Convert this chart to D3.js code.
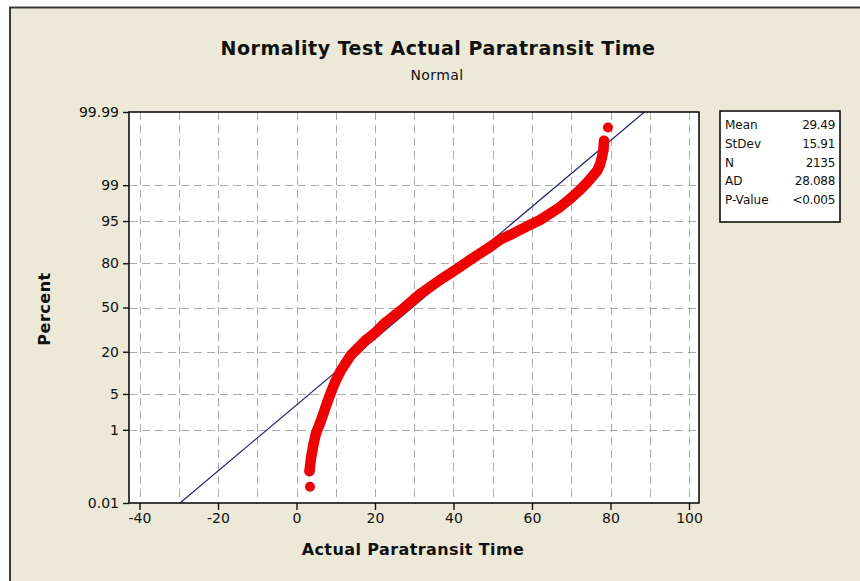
<!DOCTYPE html>
<html><head><meta charset="utf-8">
<script src="https://cdn.jsdelivr.net/npm/d3@7"></script>
<style>body{margin:0;background:#fff;} svg{display:block;}</style>
</head><body><svg id="c" width="860" height="581"></svg>
<script>
// ---- data ----
const xTicks = [-40, -20, 0, 20, 40, 60, 80, 100];
const xTickLabels = ["-40", "-20", "0", "20", "40", "60", "80", "100"];
const xGrid = [-40, -30, -20, -10, 0, 10, 20, 30, 40, 50, 60, 70, 80, 90, 100];
const yTicks = [0.01, 1, 5, 20, 50, 80, 95, 99, 99.99];
const yTickLabels = ["0.01", "1", "5", "20", "50", "80", "95", "99", "99.99"];
const dataValue = [3.44, 3.31, 3.69, 4.28, 4.97, 5.99, 6.88, 7.77, 8.79, 9.94, 11.08, 12.36, 13.89, 15.67, 17.71, 20.0, 22.55, 25.10, 27.64, 31.46, 34.01, 36.56, 39.11, 41.66, 44.20, 46.75, 49.30, 51.85, 54.39, 56.94, 59.49, 62.04, 64.59, 67.13, 69.68, 72.23, 73.76, 75.29, 76.56, 77.32, 77.83, 78.22, 78.34, 79.36];
const dataPercent = [0.0325, 0.092, 0.207, 0.44, 0.84, 1.39, 2.22, 3.45, 5.37, 8.08, 10.96, 14.1, 18.3, 22.0, 26.8, 31.4, 38.4, 44.3, 50.4, 60.1, 65.2, 70.0, 74.1, 78.0, 81.7, 84.8, 87.5, 90.1, 91.6, 93.0, 94.2, 95.2, 96.3, 97.2, 98.06, 98.74, 99.07, 99.35, 99.53, 99.67, 99.79, 99.87, 99.924, 99.969];
const statLabels = ["Mean", "StDev", "N", "AD", "P-Value"];
const statValues = ["29.49", "15.91", "2135", "28.088", "<0.005"];
const fitMean = 29.49, fitSd = 15.91;
const titleText = "Normality Test Actual Paratransit Time";
const subtitleText = "Normal";
const xLabel = "Actual Paratransit Time";
const yLabel = "Percent";

// ---- inverse normal (probability scale) ----
function probit(p) {
  const a = [-3.969683028665376e+01, 2.209460984245205e+02, -2.759285104469687e+02, 1.383577518672690e+02, -3.066479806614716e+01, 2.506628277459239e+00];
  const b = [-5.447609879822406e+01, 1.615858368580409e+02, -1.556989798598866e+02, 6.680131188771972e+01, -1.328068155288572e+01];
  const c = [-7.784894002430293e-03, -3.223964580411365e-01, -2.400758277161838e+00, -2.549732539343734e+00, 4.374664141464968e+00, 2.938163982698783e+00];
  const d = [7.784695709041462e-03, 3.224671290700398e-01, 2.445134137142996e+00, 3.754408661907416e+00];
  const pl = 0.02425, ph = 1 - pl;
  let q, r;
  if (p < pl) { q = Math.sqrt(-2 * Math.log(p)); return (((((c[0]*q+c[1])*q+c[2])*q+c[3])*q+c[4])*q+c[5]) / ((((d[0]*q+d[1])*q+d[2])*q+d[3])*q+1); }
  if (p <= ph) { q = p - 0.5; r = q*q; return (((((a[0]*r+a[1])*r+a[2])*r+a[3])*r+a[4])*r+a[5])*q / (((((b[0]*r+b[1])*r+b[2])*r+b[3])*r+b[4])*r+1); }
  q = Math.sqrt(-2 * Math.log(1 - p)); return -(((((c[0]*q+c[1])*q+c[2])*q+c[3])*q+c[4])*q+c[5]) / ((((d[0]*q+d[1])*q+d[2])*q+d[3])*q+1);
}

// ---- layout ----
const plot = {left: 129, right: 699, top: 112, bottom: 503};
const font = "'DejaVu Sans', sans-serif";
const svg = d3.select("#c");

svg.append("rect").attr("x", 10).attr("y", 7).attr("width", 850).attr("height", 574).attr("fill", "#ece9d8");
svg.append("path").attr("d", "M10,581V7.5H860").attr("fill", "none").attr("stroke", "#3a3a3a").attr("stroke-width", 2);

const x = d3.scaleLinear().domain([-40, 100]).range([139.5, 689]);
const zScale = d3.scaleLinear().domain([probit(0.0001), probit(0.9999)]).range([plot.bottom, plot.top]);
const y = p => zScale(probit(p / 100));

svg.append("rect").attr("x", plot.left).attr("y", plot.top).attr("width", plot.right - plot.left).attr("height", plot.bottom - plot.top).attr("fill", "#fff");

// grid
const grid = svg.append("g").attr("stroke", "#ababab").attr("stroke-width", 1).attr("stroke-dasharray", "8,5");
grid.selectAll("line.v").data(xGrid).join("line").attr("class", "v")
  .attr("x1", d => Math.round(x(d)) + 0.5).attr("x2", d => Math.round(x(d)) + 0.5).attr("y1", plot.top).attr("y2", plot.bottom);
grid.selectAll("line.h").data(yTicks.slice(1, -1)).join("line").attr("class", "h")
  .attr("y1", d => Math.round(y(d)) + 0.5).attr("y2", d => Math.round(y(d)) + 0.5).attr("x1", plot.left).attr("x2", plot.right);

// fitted line
const fitP = [0.01, 99.99];
svg.append("path")
  .datum(fitP)
  .attr("d", d3.line().x(p => x(fitMean + fitSd * probit(p / 100))).y(p => y(p)))
  .attr("fill", "none").attr("stroke", "#23237a").attr("stroke-width", 1.2);

// data
const pts = dataValue.map((v, i) => ({v, p: dataPercent[i]}));
const red = "#f00000";
svg.append("path").datum(pts.slice(1, -1))
  .attr("d", d3.line().x(d => x(d.v)).y(d => y(d.p)))
  .attr("fill", "none").attr("stroke", red).attr("stroke-width", 10.5).attr("stroke-linejoin", "round").attr("stroke-linecap", "round");
svg.append("g").selectAll("circle").data(pts).join("circle")
  .attr("cx", d => x(d.v)).attr("cy", d => y(d.p)).attr("r", 5).attr("fill", red);

// plot border
svg.append("rect").attr("x", plot.left).attr("y", plot.top).attr("width", plot.right - plot.left).attr("height", plot.bottom - plot.top)
  .attr("fill", "none").attr("stroke", "#111").attr("stroke-width", 1.6);

// x axis
const xAxis = svg.append("g").attr("transform", `translate(0,${plot.bottom})`)
  .call(d3.axisBottom(x).tickValues(xTicks).tickFormat((d, i) => xTickLabels[i]).tickSize(7).tickSizeOuter(0).tickPadding(3));
xAxis.select(".domain").remove();
xAxis.selectAll("line").attr("stroke", "#111").attr("stroke-width", 1.4);
xAxis.selectAll("text").attr("font-family", font).attr("font-size", 14).attr("fill", "#111");

// y axis
const yAxis = svg.append("g").attr("transform", `translate(${plot.left},0)`)
  .call(d3.axisLeft(zScale).tickValues(yTicks.map(p => probit(p / 100))).tickFormat((d, i) => yTickLabels[i]).tickSize(6).tickSizeOuter(0).tickPadding(4));
yAxis.select(".domain").remove();
yAxis.selectAll("line").attr("stroke", "#111").attr("stroke-width", 1.4);
yAxis.selectAll("text").attr("font-family", font).attr("font-size", 14).attr("fill", "#111");

// titles
svg.append("text").attr("x", 438).attr("y", 55).attr("text-anchor", "middle").attr("font-family", font)
  .attr("font-weight", "bold").attr("font-size", 19).attr("letter-spacing", 0.5).attr("fill", "#111").text(titleText);
svg.append("text").attr("x", 437).attr("y", 80).attr("text-anchor", "middle").attr("font-family", font)
  .attr("font-size", 14).attr("letter-spacing", 0.4).attr("fill", "#111").text(subtitleText);
svg.append("text").attr("x", 413).attr("y", 555).attr("text-anchor", "middle").attr("font-family", font)
  .attr("font-weight", "bold").attr("font-size", 16).attr("letter-spacing", 0.4).attr("fill", "#111").text(xLabel);
svg.append("text").attr("transform", "translate(50,309) rotate(-90)").attr("text-anchor", "middle").attr("font-family", font)
  .attr("font-weight", "bold").attr("font-size", 16).attr("letter-spacing", 0.5).attr("fill", "#111").text(yLabel);

// stats box
const box = {x: 720, y: 111, w: 120, h: 111};
svg.append("rect").attr("x", box.x).attr("y", box.y).attr("width", box.w).attr("height", box.h)
  .attr("fill", "#fff").attr("stroke", "#111").attr("stroke-width", 1.6);
const rowY = d3.scalePoint().domain(statLabels).range([box.y + 14, box.y + 89]);
const st = svg.append("g").attr("font-family", font).attr("font-size", 12).attr("fill", "#111");
st.selectAll("text.l").data(statLabels).join("text").attr("class", "l")
  .attr("x", box.x + 5).attr("y", d => rowY(d)).attr("dy", "0.35em").text(d => d);
st.selectAll("text.r").data(statValues).join("text").attr("class", "r")
  .attr("x", box.x + box.w - 5).attr("y", (d, i) => rowY(statLabels[i])).attr("dy", "0.35em").attr("text-anchor", "end").attr("letter-spacing", -0.3).text(d => d);
</script></body></html>
